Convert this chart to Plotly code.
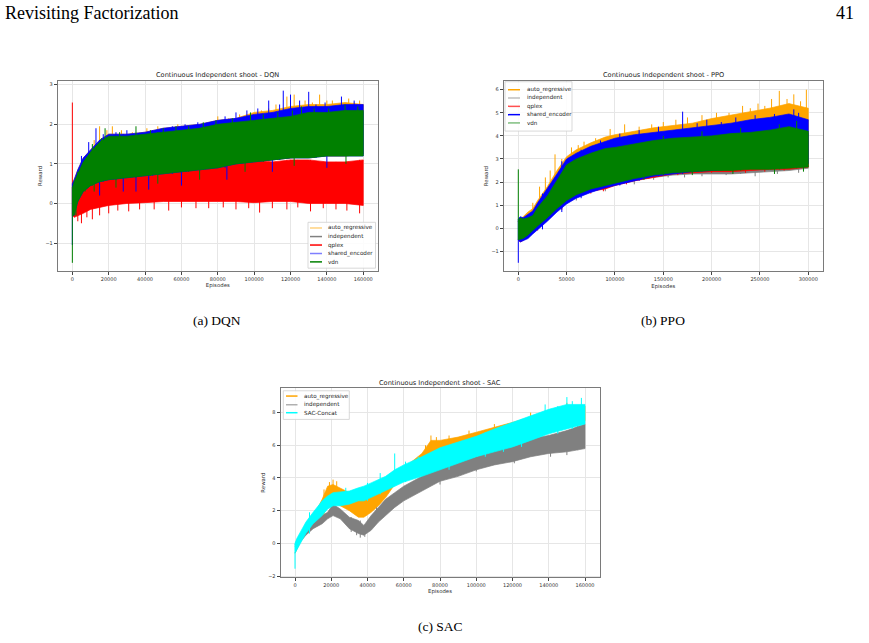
import plotly.graph_objects as go

W, H = 869, 643


def fx(p):
    return p / W


def fy(p):
    return 1 - p / H


# ================= DQN : dense band (lo / hi) + individual spikes =================
dqn_x = [0, 1000, 3000, 6000, 10000, 15000, 20000, 30000, 40000, 50000, 60000,
         70000, 80000, 90000, 100000, 110000, 120000, 130000, 140000, 150000, 160000]
dqn_auto_hi = [0.5, 0.6, 0.85, 1.15, 1.35, 1.6, 1.75, 1.75, 1.8, 1.9, 1.95,
               2.0, 2.1, 2.15, 2.3, 2.35, 2.45, 2.5, 2.5, 2.55, 2.5]
dqn_auto_lo = [-0.3, -0.2, 0.1, 0.3, 0.45, 0.55, 0.6, 0.65, 0.7, 0.75, 0.8,
               0.85, 0.95, 1.0, 1.05, 1.1, 1.15, 1.2, 1.2, 1.2, 1.25]
dqn_auto_spk_x = [12000, 15000, 19000, 22000, 27000, 33000, 41000, 47000, 52000, 58000, 66000,
                  74000, 80000, 86000, 92000, 98000, 104000, 108000, 112000, 118000, 122000,
                  128000, 132000, 136000, 140000, 143000, 147000, 152000, 155000, 158000]
dqn_auto_spk_y = [1.6, 1.95, 1.85, 1.95, 1.85, 1.8, 1.9, 1.95, 1.9, 2.0, 2.0,
                  2.05, 2.2, 2.1, 2.25, 2.3, 2.35, 2.4, 2.5, 2.7, 2.75,
                  2.6, 2.55, 2.75, 2.6, 2.6, 2.55, 2.65, 2.5, 2.6]

dqn_indep_hi = [0.4, 0.5, 0.75, 1.0, 1.25, 1.5, 1.65, 1.65, 1.7, 1.75, 1.8,
                1.85, 1.95, 2.0, 2.05, 2.1, 2.15, 2.25, 2.25, 2.3, 2.3]
dqn_indep_lo = [-0.3, -0.2, 0.1, 0.3, 0.45, 0.55, 0.6, 0.65, 0.7, 0.75, 0.8,
                0.85, 0.95, 1.0, 1.05, 1.1, 1.15, 1.2, 1.2, 1.2, 1.25]

dqn_qplex_hi = [0.3, 0.3, 0.35, 0.5, 0.6, 0.7, 0.75, 0.8, 0.8, 0.85, 0.9,
                0.95, 1.0, 1.05, 1.1, 1.05, 1.1, 1.1, 1.05, 1.05, 1.1]
dqn_qplex_lo = [-0.3, -0.35, -0.3, -0.25, -0.15, -0.1, -0.05, 0.0, 0.02, 0.05, 0.05,
                0.05, 0.05, 0.05, 0.02, 0.05, 0.05, 0.0, 0.0, 0.0, -0.05]
dqn_qplex_spk_x = [0, 3000, 5000, 8000, 11000, 15000, 20000, 25000, 31000, 37000, 45000, 53000,
                   60000, 68000, 75000, 83000, 90000, 97000, 103000, 110000, 118000, 124000,
                   131000, 138000, 145000, 151000, 158000]
dqn_qplex_spk_y = [2.55, -0.45, -0.5, -0.35, -0.4, -0.3, -0.25, -0.18, -0.2, -0.15, -0.15, -0.18,
                   -0.1, -0.12, -0.12, -0.1, -0.15, -0.12, -0.23, -0.12, -0.15, -0.1,
                   -0.2, -0.12, -0.15, -0.18, -0.25]

dqn_shared_hi = [0.5, 0.6, 0.85, 1.15, 1.35, 1.6, 1.75, 1.75, 1.8, 1.9, 1.95,
                 2.0, 2.1, 2.15, 2.25, 2.3, 2.4, 2.45, 2.45, 2.5, 2.5]
dqn_shared_lo = [-0.3, -0.3, 0.05, 0.3, 0.45, 0.55, 0.6, 0.65, 0.7, 0.75, 0.8,
                 0.85, 0.9, 1.0, 1.05, 1.1, 1.15, 1.15, 1.2, 1.2, 1.2]
dqn_shared_spk_x = [0, 5000, 9000, 13000, 17000, 24000, 30000, 37000, 44000, 55000, 62000, 69000,
                    77000, 84000, 90000, 96000, 102000, 108000, 114000, 116000, 120000, 125000,
                    130000, 134000, 139000, 144000, 148000, 155000,
                    15000, 28000, 35000, 42000, 60000, 85000, 110000, 140000]
dqn_shared_spk_y = [-1.05, 1.2, 1.55, 1.9, 1.75, 1.8, 1.85, 1.8, 1.85, 1.95, 2.0, 2.05,
                    2.1, 2.2, 2.3, 2.35, 2.4, 2.6, 2.5, 2.85, 2.75, 2.6,
                    2.82, 2.5, 2.55, 2.45, 2.7, 2.6,
                    0.2, 0.3, 0.3, 0.35, 0.45, 0.6, 0.8, 0.9]

dqn_vdn_hi = [0.4, 0.55, 0.75, 1.05, 1.3, 1.55, 1.7, 1.7, 1.75, 1.8, 1.85,
              1.9, 2.0, 2.05, 2.1, 2.15, 2.2, 2.3, 2.3, 2.35, 2.35]
dqn_vdn_lo = [-0.3, -0.3, 0.05, 0.3, 0.45, 0.55, 0.6, 0.65, 0.7, 0.75, 0.8,
              0.85, 0.9, 1.0, 1.05, 1.1, 1.15, 1.15, 1.2, 1.2, 1.2]
dqn_vdn_spk_x = [0, 3000, 7000, 11000, 16000, 18000, 26000, 35000, 43000, 50000, 57000, 64000,
                 72000, 79000, 88000, 98000, 105000, 113000, 121000, 126000, 133000, 141000,
                 150000, 157000,
                 2000, 12000, 24000, 47000, 70000, 95000, 122000, 150500]
dqn_vdn_spk_y = [-1.5, 0.8, 1.1, 1.5, 1.65, 1.9, 1.8, 1.95, 1.85, 1.9, 1.95, 1.95,
                 2.05, 2.1, 2.15, 2.3, 2.25, 2.3, 2.35, 2.45, 2.4, 2.4,
                 2.5, 2.45,
                 -0.3, 0.3, 0.4, 0.5, 0.6, 0.8, 0.95, 1.0]

# ================= PPO =================
ppo_x = [0, 2000, 5000, 10000, 15000, 20000, 30000, 40000, 50000, 60000, 75000, 90000,
         100000, 120000, 140000, 160000, 180000, 200000, 220000, 240000, 260000, 280000, 300000]
ppo_auto_hi = [0.3, 0.4, 0.5, 0.7, 0.85, 1.2, 1.8, 2.5, 3.1, 3.4, 3.7, 3.95,
               4.05, 4.2, 4.35, 4.45, 4.55, 4.75, 4.9, 5.05, 5.2, 5.4, 5.2]
ppo_auto_lo = [-0.5, -0.5, -0.45, -0.3, -0.1, 0.1, 0.45, 0.85, 1.25, 1.5, 1.75, 1.9,
               2.0, 2.2, 2.35, 2.45, 2.5, 2.6, 2.65, 2.7, 2.75, 2.8, 2.85]
ppo_auto_spk_x = [15000, 22000, 28000, 33000, 38000, 45000, 55000, 62000, 68000, 80000, 95000,
                  110000, 125000, 138000, 150000, 163000, 175000, 190000, 205000, 218000, 232000,
                  240000, 248000, 255000, 262000, 270000, 278000, 285000, 292000, 298000]
ppo_auto_spk_y = [1.1, 1.8, 2.2, 2.5, 3.2, 3.0, 3.5, 3.6, 3.75, 3.9, 4.3,
                  4.5, 4.4, 4.5, 4.6, 4.7, 4.8, 4.9, 5.0, 5.0, 5.3,
                  5.2, 5.4, 5.3, 5.6, 5.95, 5.6, 5.8, 5.5, 6.0]

ppo_indep_hi = [0.3, 0.4, 0.35, 0.4, 0.5, 0.8, 1.3, 2.0, 2.6, 2.9, 3.15, 3.35,
                3.4, 3.55, 3.7, 3.8, 3.85, 3.9, 4.0, 4.05, 4.15, 4.3, 4.1]
ppo_indep_lo = [-0.5, -0.55, -0.5, -0.35, -0.15, 0.05, 0.4, 0.8, 1.15, 1.4, 1.65, 1.75,
                1.9, 2.1, 2.2, 2.3, 2.35, 2.35, 2.35, 2.4, 2.45, 2.5, 2.6]
ppo_indep_spk_x = [60000, 90000, 120000, 140000, 155000, 172000, 190000, 215000, 230000, 245000, 268000, 290000]
ppo_indep_spk_y = [1.2, 1.6, 1.9, 2.1, 2.2, 2.2, 2.25, 2.3, 2.35, 2.25, 2.35, 2.4]

ppo_qplex_hi = [0.3, 0.4, 0.35, 0.4, 0.5, 0.8, 1.3, 2.0, 2.6, 2.9, 3.15, 3.35,
                3.4, 3.55, 3.7, 3.8, 3.85, 3.9, 4.0, 4.05, 4.15, 4.3, 4.1]
ppo_qplex_lo = [-0.5, -0.6, -0.55, -0.4, -0.2, 0.0, 0.35, 0.75, 1.1, 1.35, 1.6, 1.7,
                1.85, 2.05, 2.2, 2.35, 2.4, 2.45, 2.45, 2.5, 2.55, 2.55, 2.65]
ppo_qplex_spk_x = [20000, 45000, 75000, 88000, 112000, 135000, 165000, 200000, 235000, 255000, 275000]
ppo_qplex_spk_y = [-0.1, 0.8, 1.5, 1.6, 1.9, 2.15, 2.3, 2.4, 2.4, 2.45, 2.5]

ppo_shared_hi = [0.4, 0.5, 0.45, 0.6, 0.75, 1.1, 1.7, 2.35, 3.0, 3.25, 3.55, 3.75,
                 3.9, 4.05, 4.15, 4.25, 4.35, 4.45, 4.55, 4.7, 4.8, 4.95, 4.7]
ppo_shared_lo = [-0.5, -0.6, -0.55, -0.45, -0.25, -0.05, 0.3, 0.7, 1.05, 1.3, 1.55, 1.75,
                 1.85, 2.05, 2.25, 2.35, 2.45, 2.5, 2.55, 2.6, 2.7, 2.75, 2.8]
ppo_shared_spk_x = [0, 10000, 25000, 45000, 65000, 85000, 105000, 125000, 145000, 170000, 185000,
                    195000, 210000, 225000, 245000, 265000, 285000, 290000]
ppo_shared_spk_y = [-1.5, 0.6, 1.5, 2.9, 3.4, 3.8, 4.1, 4.25, 4.4, 5.05, 4.55,
                    4.7, 4.6, 4.8, 4.9, 4.95, 5.15, 5.0]

ppo_vdn_hi = [0.3, 0.45, 0.4, 0.45, 0.55, 0.9, 1.4, 2.1, 2.75, 3.0, 3.25, 3.45,
              3.5, 3.65, 3.8, 3.9, 3.95, 4.0, 4.1, 4.15, 4.25, 4.4, 4.2]
ppo_vdn_lo = [-0.5, -0.5, -0.45, -0.3, -0.1, 0.1, 0.45, 0.85, 1.2, 1.45, 1.7, 1.85,
              1.95, 2.15, 2.3, 2.4, 2.45, 2.5, 2.5, 2.55, 2.55, 2.6, 2.65]
ppo_vdn_spk_x = [0, 130000, 180000, 222000, 265000, 295000, 150000, 190000, 230000, 270000, 288000]
ppo_vdn_spk_y = [2.55, 2.1, 2.3, 2.35, 2.35, 2.45, 4.0, 4.2, 4.35, 4.5, 4.65]

# ================= SAC =================
sac_x = [0, 1000, 3000, 6000, 10000, 15000, 18000, 21000, 25000, 30000, 35000, 38000,
         42000, 46000, 50000, 55000, 60000, 70000, 75000, 80000, 90000, 100000,
         110000, 120000, 130000, 140000, 150000, 160000]
sac_auto_hi = [-0.2, 0.1, 0.5, 1.0, 1.6, 2.7, 3.5, 3.6, 3.4, 3.1, 2.6, 2.7,
               3.0, 3.4, 3.8, 4.2, 4.6, 5.5, 6.3, 6.3, 6.5, 6.8,
               7.1, 7.4, 7.7, 8.0, 8.4, 8.4]
sac_auto_lo = [-0.6, -0.3, 0.2, 0.7, 1.0, 1.7, 2.2, 2.5, 2.3, 2.0, 1.6, 1.6,
               1.9, 2.3, 2.8, 3.6, 3.9, 4.4, 4.8, 5.2, 5.6, 6.0,
               6.2, 6.5, 6.8, 7.1, 7.3, 7.5]
sac_auto_spk_x = [16000, 19000, 21000, 23000, 72000, 75000, 78000, 85000, 96000, 110000, 130000, 150000]
sac_auto_spk_y = [3.3, 3.75, 3.9, 3.8, 6.0, 6.6, 6.5, 6.6, 6.9, 7.3, 8.0, 8.6]

sac_indep_hi = [-0.1, 0.2, 0.5, 0.9, 1.4, 1.7, 1.9, 2.4, 2.1, 1.6, 1.4, 1.1,
                1.7, 2.2, 2.7, 3.1, 3.5, 4.1, 4.4, 4.7, 5.0, 5.3,
                5.7, 6.1, 6.4, 6.6, 6.9, 7.3]
sac_indep_lo = [-0.6, -0.4, 0.1, 0.5, 0.9, 1.2, 1.5, 1.7, 1.5, 0.9, 0.6, 0.5,
                0.8, 1.3, 1.7, 2.2, 2.6, 3.2, 3.5, 3.8, 4.1, 4.5,
                4.8, 5.0, 5.3, 5.5, 5.6, 5.8]
sac_indep_spk_x = [31000, 34000, 36000, 38500, 45000, 80000, 100000, 121000, 141000, 150000, 156000]
sac_indep_spk_y = [0.7, 0.5, 0.35, 0.4, 1.2, 3.6, 4.4, 4.9, 5.3, 5.4, 5.7]

sac_concat_hi = [0.0, 0.3, 0.7, 1.3, 1.9, 2.6, 2.9, 3.1, 3.15, 3.2, 3.4, 3.5,
                 3.7, 3.9, 4.1, 4.5, 4.8, 5.3, 5.6, 5.85, 6.2, 6.55,
                 7.0, 7.4, 7.8, 8.2, 8.5, 8.5]
sac_concat_lo = [-0.6, -0.4, 0.0, 0.6, 1.2, 1.7, 2.1, 2.3, 2.3, 2.4, 2.6, 2.6,
                 2.8, 3.0, 3.2, 3.5, 3.75, 4.1, 4.3, 4.5, 4.9, 5.3,
                 5.6, 5.9, 6.3, 6.7, 7.0, 7.3]
sac_concat_spk_x = [0, 8000, 13000, 28000, 40000, 47000, 55000, 61000, 68000, 85000, 105000,
                    115000, 125000, 138000, 145000, 150000, 153000, 158000]
sac_concat_spk_y = [-1.55, 1.9, 2.6, 3.4, 3.7, 4.3, 5.5, 5.0, 5.2, 6.0, 6.8,
                    7.2, 7.6, 8.5, 8.4, 8.95, 8.7, 8.9]

# ================= ticks / names =================
dqn_xticks = [0, 20000, 40000, 60000, 80000, 100000, 120000, 140000, 160000]
dqn_yticks = [-1, 0, 1, 2, 3]
ppo_xticks = [0, 50000, 100000, 150000, 200000, 250000, 300000]
ppo_yticks = [-1, 0, 1, 2, 3, 4, 5, 6]
sac_xticks = [0, 20000, 40000, 60000, 80000, 100000, 120000, 140000, 160000]
sac_yticks = [-2, 0, 2, 4, 6, 8]

dqn_names = ["auto_regressive", "independent", "qplex", "shared_encoder", "vdn"]
ppo_names = ["auto_regressive", "independent", "qplex", "shared_encoder", "vdn"]
sac_names = ["auto_regressive", "independent", "SAC-Concat"]

ORANGE, GRAY, RED, BLUE, GREEN, CYAN = "#FFA500", "#808080", "#FF0000", "#0000FF", "#008000", "#00FFFF"

fig = go.Figure()


def add_series(x, lo, hi, color, ax, spk_x=None, spk_y=None):
    xs = list(x) + list(x)[::-1]
    ys = list(hi) + list(lo)[::-1]
    fig.add_trace(go.Scatter(
        x=xs, y=ys, mode="lines", fill="toself", fillcolor=color,
        line=dict(color=color, width=0.7), xaxis="x" + ax, yaxis="y" + ax,
        showlegend=False, hoverinfo="skip"))
    if spk_x:
        sx, sy = [], []
        for px_, tip in zip(spk_x, spk_y):
            i = min(range(len(x)), key=lambda k: abs(x[k] - px_))
            base = lo[i] if tip > hi[i] else hi[i]
            sx += [px_, px_, None]
            sy += [base, tip, None]
        fig.add_trace(go.Scatter(
            x=sx, y=sy, mode="lines", line=dict(color=color, width=1.0),
            xaxis="x" + ax, yaxis="y" + ax, showlegend=False, hoverinfo="skip",
            connectgaps=False))


# DQN
add_series(dqn_x, dqn_auto_lo, dqn_auto_hi, ORANGE, "", dqn_auto_spk_x, dqn_auto_spk_y)
add_series(dqn_x, dqn_indep_lo, dqn_indep_hi, GRAY, "")
add_series(dqn_x, dqn_qplex_lo, dqn_qplex_hi, RED, "", dqn_qplex_spk_x, dqn_qplex_spk_y)
add_series(dqn_x, dqn_shared_lo, dqn_shared_hi, BLUE, "", dqn_shared_spk_x, dqn_shared_spk_y)
add_series(dqn_x, dqn_vdn_lo, dqn_vdn_hi, GREEN, "", dqn_vdn_spk_x, dqn_vdn_spk_y)
# PPO
add_series(ppo_x, ppo_auto_lo, ppo_auto_hi, ORANGE, "2", ppo_auto_spk_x, ppo_auto_spk_y)
add_series(ppo_x, ppo_indep_lo, ppo_indep_hi, GRAY, "2", ppo_indep_spk_x, ppo_indep_spk_y)
add_series(ppo_x, ppo_qplex_lo, ppo_qplex_hi, RED, "2", ppo_qplex_spk_x, ppo_qplex_spk_y)
add_series(ppo_x, ppo_shared_lo, ppo_shared_hi, BLUE, "2", ppo_shared_spk_x, ppo_shared_spk_y)
add_series(ppo_x, ppo_vdn_lo, ppo_vdn_hi, GREEN, "2", ppo_vdn_spk_x, ppo_vdn_spk_y)
# SAC
add_series(sac_x, sac_auto_lo, sac_auto_hi, ORANGE, "3", sac_auto_spk_x, sac_auto_spk_y)
add_series(sac_x, sac_indep_lo, sac_indep_hi, GRAY, "3", sac_indep_spk_x, sac_indep_spk_y)
add_series(sac_x, sac_concat_lo, sac_concat_hi, CYAN, "3", sac_concat_spk_x, sac_concat_spk_y)

TICKFONT = dict(family="DejaVu Sans", size=5, color="#333333")
LABFONT = dict(family="DejaVu Sans", size=5.4, color="#333333")


def lab(v):
    return str(v).replace("-", "\u2212")


def axis(domain, rng, ticks, anchor, title):
    return dict(domain=domain, range=rng, anchor=anchor, tickvals=ticks,
                ticktext=[lab(t) for t in ticks], showgrid=True, gridcolor="#e6e6e6",
                gridwidth=0.8, zeroline=False, showline=True, linecolor="#7a7a7a",
                linewidth=1, mirror=True, ticks="outside", ticklen=3, tickwidth=0.8,
                tickcolor="#444444", tickfont=TICKFONT,
                title=dict(text=title, font=LABFONT, standoff=2))


dqn_box = (57.8, 81, 377.8, 272)
ppo_box = (503.8, 81, 822.8, 272.3)
sac_box = (280.5, 389.3, 599.5, 579)


def dom(box):
    return [fx(box[0]), fx(box[2])], [fy(box[3]), fy(box[1])]


dx1, dy1 = dom(dqn_box)
dx2, dy2 = dom(ppo_box)
dx3, dy3 = dom(sac_box)

fig.update_layout(
    width=W, height=H, autosize=False, margin=dict(l=0, r=0, t=0, b=0),
    paper_bgcolor="white", plot_bgcolor="white", showlegend=False,
    xaxis=axis(dx1, [-8000, 168000], dqn_xticks, "y", "Episodes"),
    yaxis=axis(dy1, [-1.71, 3.1], dqn_yticks, "x", "Reward"),
    xaxis2=axis(dx2, [-15000, 315000], ppo_xticks, "y2", "Episodes"),
    yaxis2=axis(dy2, [-1.875, 6.39], ppo_yticks, "x2", "Reward"),
    xaxis3=axis(dx3, [-8000, 168000], sac_xticks, "y3", "Episodes"),
    yaxis3=axis(dy3, [-2.07, 9.5], sac_yticks, "x3", "Reward"),
)

annotations = []
shapes = []

TITLEFONT = dict(family="DejaVu Sans", size=6.6, color="#222222")
for box, txt in [(dqn_box, "Continuous Independent shoot - DQN"),
                 (ppo_box, "Continuous Independent shoot - PPO"),
                 (sac_box, "Continuous Independent shoot - SAC")]:
    annotations.append(dict(text=txt, x=fx((box[0] + box[2]) / 2), y=fy(box[1] - 5.5),
                            xref="paper", yref="paper", xanchor="center", yanchor="middle",
                            showarrow=False, font=TITLEFONT))

SERIF = "Liberation Serif"
annotations.append(dict(text="Revisiting Factorization", x=fx(3), y=fy(13), xref="paper",
                        yref="paper", xanchor="left", yanchor="middle", showarrow=False,
                        font=dict(family=SERIF, size=18, color="#000000")))
annotations.append(dict(text="41", x=fx(856), y=fy(13), xref="paper", yref="paper",
                        xanchor="right", yanchor="middle", showarrow=False,
                        font=dict(family=SERIF, size=18, color="#000000")))
for cx, cy, txt in [(217, 321, "(a) DQN"), (663, 321, "(b) PPO"), (440, 628, "(c) SAC")]:
    annotations.append(dict(text=txt, x=fx(cx), y=fy(cy), xref="paper", yref="paper",
                            xanchor="center", yanchor="middle", showarrow=False,
                            font=dict(family=SERIF, size=13.5, color="#000000")))


def legend(box, names, colors, line_x, text_x, ys):
    shapes.append(dict(type="rect", xref="paper", yref="paper", x0=fx(box[0]), x1=fx(box[2]),
                       y0=fy(box[3]), y1=fy(box[1]), line=dict(color="#cfcfcf", width=0.8),
                       fillcolor="rgba(255,255,255,0.85)", layer="above"))
    for name, col, yy in zip(names, colors, ys):
        shapes.append(dict(type="line", xref="paper", yref="paper", x0=fx(line_x[0]),
                           x1=fx(line_x[1]), y0=fy(yy), y1=fy(yy),
                           line=dict(color=col, width=1.5), layer="above"))
        annotations.append(dict(text=name, x=fx(text_x), y=fy(yy), xref="paper", yref="paper",
                                xanchor="left", yanchor="middle", showarrow=False,
                                font=dict(family="DejaVu Sans", size=5.6, color="#222222")))


legend((308, 223, 375.5, 269), dqn_names, ["#FFD27F", "#808080", "#FF0000", "#7F7FFF", "#008000"],
       (310, 322), 326, [228.7, 237.3, 245.8, 254.3, 262.7])
legend((505, 82, 572, 131.5), ppo_names, ["#FFA500", "#BFBFBF", "#FF5050", "#0000FF", "#7FBF7F"],
       (508, 520), 525, [90, 98.3, 106.7, 115, 123.3])
legend((283.3, 392, 349.3, 420.7), sac_names, ["#FFA500", "#B0B0B0", "#00FFFF"],
       (286, 297.5), 301.7, [397.3, 406, 414])

fig.update_layout(annotations=annotations, shapes=shapes)

fig.write_html("out.html")
